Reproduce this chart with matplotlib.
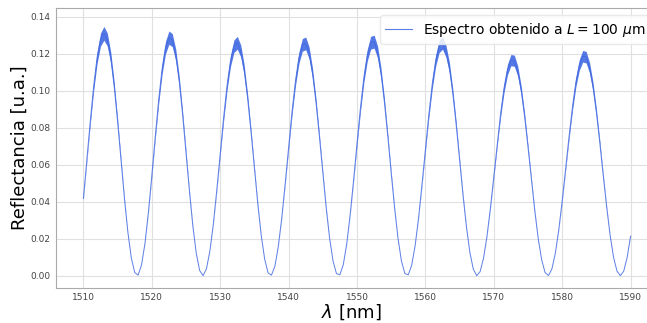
import numpy as np
import matplotlib
matplotlib.use("Agg")
import matplotlib.pyplot as plt

# Longitud de onda [nm], muestreo cada 0.5 nm
lam = np.arange(1510, 1590.25, 0.5)

refl = [
    0.0417, 0.0624, 0.0833, 0.1024, 0.1178, 0.1276, 0.1310, 0.1276, 0.1178, 0.1024,
    0.0833, 0.0624, 0.0417, 0.0235, 0.0097, 0.0017, 0.0003, 0.0058, 0.0174, 0.0341,
    0.0540, 0.0750, 0.0949, 0.1116, 0.1232, 0.1287, 0.1273, 0.1193, 0.1055, 0.0872,
    0.0666, 0.0458, 0.0269, 0.0121, 0.0028, 0.0000, 0.0038, 0.0135, 0.0281, 0.0462,
    0.0660, 0.0855, 0.1027, 0.1160, 0.1240, 0.1259, 0.1215, 0.1113, 0.0962, 0.0779,
    0.0580, 0.0387, 0.0217, 0.0090, 0.0015, 0.0003, 0.0052, 0.0159, 0.0312, 0.0497,
    0.0694, 0.0886, 0.1051, 0.1176, 0.1247, 0.1256, 0.1204, 0.1094, 0.0939, 0.0753,
    0.0556, 0.0365, 0.0201, 0.0079, 0.0011, 0.0005, 0.0060, 0.0172, 0.0329, 0.0516,
    0.0715, 0.0905, 0.1070, 0.1191, 0.1259, 0.1265, 0.1210, 0.1098, 0.0941, 0.0754,
    0.0555, 0.0365, 0.0200, 0.0079, 0.0011, 0.0005, 0.0057, 0.0163, 0.0312, 0.0492,
    0.0684, 0.0870, 0.1035, 0.1162, 0.1239, 0.1259, 0.1214, 0.1127, 0.0988, 0.0816,
    0.0625, 0.0435, 0.0264, 0.0126, 0.0036, 0.0000, 0.0022, 0.0095, 0.0212, 0.0364,
    0.0536, 0.0713, 0.0878, 0.1015, 0.1114, 0.1165, 0.1162, 0.1106, 0.1003, 0.0862,
    0.0695, 0.0519, 0.0348, 0.0199, 0.0085, 0.0017, 0.0001, 0.0037, 0.0122, 0.0248,
    0.0404, 0.0578, 0.0751, 0.0912, 0.1046, 0.1139, 0.1186, 0.1181, 0.1124, 0.1022,
    0.0882, 0.0718, 0.0541, 0.0372, 0.0220, 0.0101, 0.0026, 0.0000, 0.0025, 0.0099,
    0.0214,
]
refl = np.array(refl)

# semiancho aprox. de la banda de ruido en los maximos
ruido_max = 0.0037

etiqueta = r"Espectro obtenido a $L = 100\ \mu$m"
xticks = [1510, 1520, 1530, 1540, 1550, 1560, 1570, 1580, 1590]
yticks = [0.00, 0.02, 0.04, 0.06, 0.08, 0.10, 0.12, 0.14]

color = "royalblue"

fig = plt.figure(figsize=(6.47, 3.23), dpi=100)
ax = fig.add_axes([0.0866, 0.1093, 0.9134, 0.866])

# el ruido crece con la senal: se dibuja como banda alrededor de la traza
ancho = ruido_max * (refl / refl.max()) ** 1.7
ax.fill_between(lam, refl - ancho, refl + ancho, color=color, lw=0, alpha=0.9)
ax.plot(lam, refl, color=color, lw=0.7, alpha=0.85, label=etiqueta)

ax.set_xlim(1506, 1592.4)
ax.set_ylim(-0.0065, 0.1447)
ax.set_xticks(xticks)
ax.set_yticks(yticks)
ax.set_yticklabels([f"{v:.2f}" for v in yticks])
ax.tick_params(axis="both", length=0, labelsize=6.5, labelcolor="#444444", pad=4)

ax.grid(True, color="#e0e0e0", lw=0.8)
ax.set_axisbelow(True)
for lado in ["left", "bottom", "top"]:
    ax.spines[lado].set_color("#aaaaaa")
    ax.spines[lado].set_linewidth(0.8)
ax.spines["right"].set_visible(False)

ax.set_xlabel(r"$\lambda$ [nm]", fontsize=13, labelpad=0)
ax.set_ylabel("Reflectancia [u.a.]", fontsize=13, labelpad=1)

leg = ax.legend(loc="upper left", bbox_to_anchor=(0.548, 0.975), borderaxespad=0,
                fontsize=10, frameon=True, fancybox=True, framealpha=0.85,
                edgecolor="#e6e6e6", handlelength=1.9)
for l in leg.get_lines():
    l.set_linewidth(0.8)

fig.savefig("out.png", dpi=100)
